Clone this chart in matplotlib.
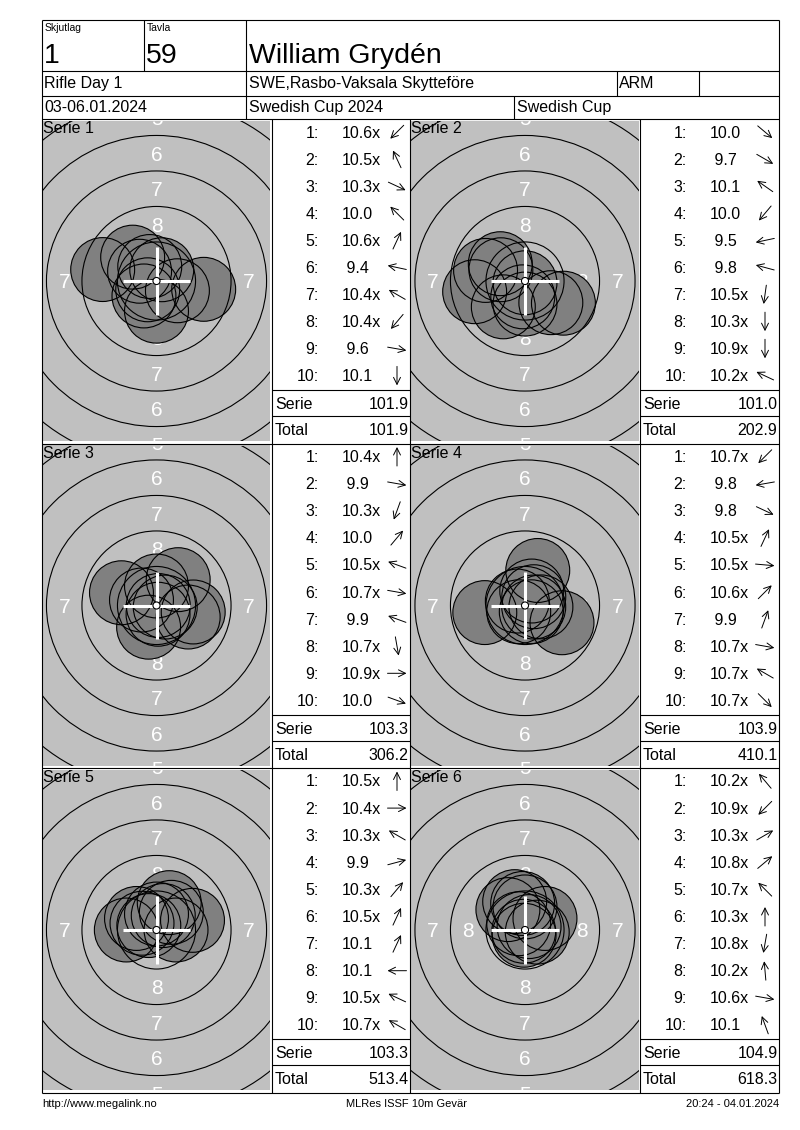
import numpy as np
import matplotlib
matplotlib.use("Agg")
import matplotlib.pyplot as plt
from matplotlib.patches import Circle

plt.rcParams['font.family'] = ['Liberation Sans', 'DejaVu Sans']

# header texts
relay = "1"
target_no = "59"
shooter = "William Grydén"
event_name = "Rifle Day 1"
club = "SWE,Rasbo-Vaksala Skytteföre"
nation = "ARM"
dates = "03-06.01.2024"
competition = "Swedish Cup 2024"
cup = "Swedish Cup"
footer_left = "http://www.megalink.no"
footer_mid = "MLRes ISSF 10m Gevär"
footer_right = "20:24 - 04.01.2024"

# shot scores per series, and direction of each shot (degrees, 0 = right, 90 = up)
shot_scores = [
    ["10.6x", "10.5x", "10.3x", "10.0", "10.6x", "9.4", "10.4x", "10.4x", "9.6", "10.1"],
    ["10.0", "9.7", "10.1", "10.0", "9.5", "9.8", "10.5x", "10.3x", "10.9x", "10.2x"],
    ["10.4x", "9.9", "10.3x", "10.0", "10.5x", "10.7x", "9.9", "10.7x", "10.9x", "10.0"],
    ["10.7x", "9.8", "9.8", "10.5x", "10.5x", "10.6x", "9.9", "10.7x", "10.7x", "10.7x"],
    ["10.5x", "10.4x", "10.3x", "9.9", "10.3x", "10.5x", "10.1", "10.1", "10.5x", "10.7x"],
    ["10.2x", "10.9x", "10.3x", "10.8x", "10.7x", "10.3x", "10.8x", "10.2x", "10.6x", "10.1"],
]
shot_angles = [
    [225, 115, 335, 135, 65, 168, 150, 230, 350, 270],
    [320, 330, 145, 230, 192, 165, 262, 270, 270, 155],
    [90, 350, 250, 50, 160, 350, 160, 280, 0, 340],
    [225, 190, 335, 65, 355, 45, 70, 350, 150, 315],
    [90, 0, 150, 15, 50, 65, 65, 180, 155, 150],
    [130, 225, 30, 40, 135, 90, 260, 95, 350, 110],
]

W, H = 800, 1130
SCALE = 14.2          # pixels per mm on the target
PELLET_R = 2.25       # mm
LW = 0.8

fig = plt.figure(figsize=(W / 100, H / 100), dpi=100)

row_tops = [119, 443.5, 768]
target_left = [43, 411]
target_w = [227, 228]
list_left = [272, 640]


def ring_radius(k):
    # outer radius of ring k in mm (10m air rifle target)
    return 0.25 + 2.5 * (10 - k)


def value(s):
    return float(s.rstrip('x'))


# --- targets ---
for i in range(6):
    row, col = divmod(i, 2)
    top = row_tops[row]
    gx0, gw = target_left[col], target_w[col]
    gy0, gh = top + 2, 320
    at = fig.add_axes([gx0 / W, 1 - (gy0 + gh) / H, gw / W, gh / H])
    hx, hy = gw / 2 / SCALE, gh / 2 / SCALE
    at.set_xlim(-hx, hx)
    at.set_ylim(-hy, hy)
    at.set_facecolor('#c0c0c0')
    at.set_xticks([])
    at.set_yticks([])
    for sp in at.spines.values():
        sp.set_visible(False)

    # ring numbers
    for k in range(1, 9):
        m = (ring_radius(k) + ring_radius(k + 1)) / 2
        for (px, py) in [(0, m), (0, -m), (m, 0), (-m, 0)]:
            at.text(px, py - 0.52, str(k), color='white', fontsize=15,
                    ha='center', va='baseline', zorder=2, clip_on=True)

    # shots
    xs, ys = [], []
    for s, a in zip(shot_scores[i], shot_angles[i]):
        d = (10.95 - value(s)) * 2.5
        xs.append(d * np.cos(np.radians(a)))
        ys.append(d * np.sin(np.radians(a)))
    for x, y in zip(xs, ys):
        at.add_patch(Circle((x, y), PELLET_R, fc='#808080', ec='none', zorder=3))
    for k in range(1, 10):
        at.add_patch(Circle((0, 0), ring_radius(k), fc='none', ec='black', lw=LW, zorder=3.5))
    for x, y in zip(xs, ys):
        at.add_patch(Circle((x, y), PELLET_R, fc='none', ec='black', lw=LW, zorder=4))

    # center cross and ten dot
    arm = 2.36
    at.plot([-arm, arm], [0, 0], color='white', lw=2.2, zorder=5, solid_capstyle='butt')
    at.plot([0, 0], [-arm, arm], color='white', lw=2.2, zorder=5, solid_capstyle='butt')
    at.add_patch(Circle((0, 0), 0.25, fc='white', ec='black', lw=LW, zorder=6))

# --- overlay with table, texts, arrows ---
ax = fig.add_axes([0, 0, 1, 1], zorder=10)
ax.set_xlim(0, W)
ax.set_ylim(H, 0)
ax.axis('off')
ax.patch.set_alpha(0)


def hline(y, x0, x1):
    ax.plot([x0, x1], [y, y], color='black', lw=LW, solid_capstyle='butt')


def vline(x, y0, y1):
    ax.plot([x, x], [y0, y1], color='black', lw=LW, solid_capstyle='butt')


X0, X1, Y0, Y1 = 42, 779, 20, 1093
hline(Y0, X0, X1)
hline(Y1, X0, X1)
vline(X0, Y0, Y1)
vline(X1, Y0, Y1)
for y in [70.5, 95.5, 119, 443.5, 768]:
    hline(y, X0, X1)
for x in [144, 246]:
    vline(x, 20, 70.5)
for x in [246, 617, 699]:
    vline(x, 70.5, 95.5)
for x in [246, 514]:
    vline(x, 95.5, 119)
for x in [272, 410, 640]:
    vline(x, 119, 1093)

ax.text(45, 31, "Skjutlag", fontsize=7.5, va='baseline')
ax.text(147, 31, "Tavla", fontsize=7.5, va='baseline')
ax.text(44, 63, relay, fontsize=20.5, va='baseline')
ax.text(146, 63, target_no, fontsize=20.5, va='baseline')
ax.text(249, 63, shooter, fontsize=20.5, va='baseline')
ax.text(44, 88, event_name, fontsize=11.5, va='baseline')
ax.text(249, 88, club, fontsize=11.5, va='baseline')
ax.text(619, 88, nation, fontsize=11.5, va='baseline')
ax.text(44, 112, dates, fontsize=11.5, va='baseline')
ax.text(249, 112, competition, fontsize=11.5, va='baseline')
ax.text(517, 112, cup, fontsize=11.5, va='baseline')

ax.text(X0, 1107, footer_left, fontsize=8, va='baseline')
ax.text(407, 1107, footer_mid, fontsize=8, va='baseline', ha='center')
ax.text(X1, 1107, footer_right, fontsize=8, va='baseline', ha='right')

total = 0.0
ARROW_L = 19
for i in range(6):
    row, col = divmod(i, 2)
    top = row_tops[row]
    L = list_left[col]
    right = [410, 779][col]
    ax.text(target_left[col], top + 14, f"Serie {i + 1}", fontsize=11.5, va='baseline')
    for j, (s, a) in enumerate(zip(shot_scores[i], shot_angles[i])):
        yc = top + 13 + 27.1 * j
        ax.text(L + 47, yc + 5.5, f"{j + 1}:", fontsize=11.5, ha='right', va='baseline')
        ax.text(L + 70, yc + 5.5, f"{s:>4}", fontsize=11.5, ha='left', va='baseline')
        dx, dy = np.cos(np.radians(a)), -np.sin(np.radians(a))
        cx = L + 125
        ax.annotate('', xy=(cx + dx * ARROW_L / 2, yc + dy * ARROW_L / 2),
                    xytext=(cx - dx * ARROW_L / 2, yc - dy * ARROW_L / 2),
                    arrowprops=dict(arrowstyle='->,head_length=0.5,head_width=0.25',
                                    lw=0.7, color='black', shrinkA=0, shrinkB=0))
    serie = round(sum(value(s) for s in shot_scores[i]), 1)
    total = round(total + serie, 1)
    hline(top + 271, L, right)
    hline(top + 297, L, right)
    ax.text(L + 3, top + 290, "Serie", fontsize=11.5, va='baseline')
    ax.text(right - 1.5, top + 290, f"{serie:.1f}", fontsize=11.5, va='baseline', ha='right')
    ax.text(L + 3, top + 316, "Total", fontsize=11.5, va='baseline')
    ax.text(right - 1.5, top + 316, f"{total:.1f}", fontsize=11.5, va='baseline', ha='right')

fig.savefig('out.png', dpi=100, facecolor='white')
